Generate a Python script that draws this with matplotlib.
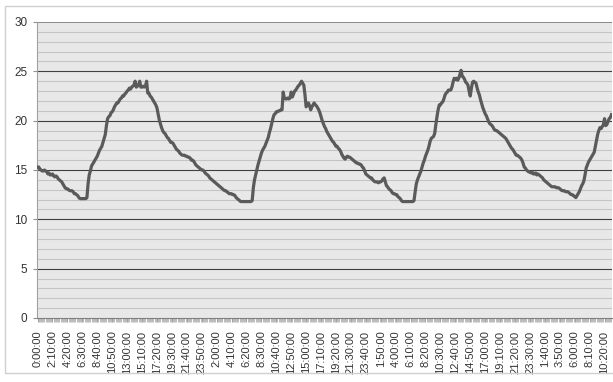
import matplotlib.pyplot as plt
import matplotlib.patches as patches
import numpy as np

plt.rcParams['font.family'] = ['Liberation Sans', 'DejaVu Sans']

# temperature readings every 10 minutes, one row per labelled interval (13 steps)
temp = [
    15.3, 15.3, 15.1, 15.0, 14.9, 14.9, 15.0, 14.9, 14.8, 14.6, 14.7, 14.5, 14.5,
    14.6, 14.4, 14.3, 14.4, 14.3, 14.1, 14.0, 13.9, 13.8, 13.6, 13.4, 13.2, 13.1,
    13.1, 13.0, 12.9, 12.9, 12.9, 12.8, 12.6, 12.6, 12.5, 12.4, 12.2, 12.1, 12.1,
    12.1, 12.1, 12.1, 12.1, 12.2, 13.6, 14.5, 14.9, 15.4, 15.6, 15.8, 16.0, 16.2,
    16.4, 16.7, 17.0, 17.2, 17.4, 17.8, 18.2, 18.6, 19.5, 20.2, 20.4, 20.5, 20.8,
    20.9, 21.1, 21.4, 21.6, 21.8, 21.8, 22.0, 22.2, 22.3, 22.5, 22.5, 22.7, 22.8,
    23.0, 23.1, 23.3, 23.2, 23.4, 23.5, 23.6, 24.0, 23.4, 23.5, 23.6, 24.0, 23.4,
    23.4, 23.5, 23.4, 23.5, 24.0, 22.8, 22.8, 22.5, 22.4, 22.2, 22.0, 21.8, 21.6,
    21.3, 20.7, 20.1, 19.7, 19.3, 19.0, 18.8, 18.7, 18.5, 18.3, 18.2, 18.0, 17.8,
    17.8, 17.7, 17.5, 17.3, 17.1, 17.0, 16.9, 16.7, 16.6, 16.5, 16.5, 16.5, 16.4,
    16.4, 16.3, 16.3, 16.2, 16.0, 16.0, 15.9, 15.7, 15.5, 15.4, 15.3, 15.2, 15.1,
    15.0, 15.0, 14.9, 14.7, 14.6, 14.5, 14.4, 14.2, 14.1, 14.0, 13.9, 13.8, 13.7,
    13.6, 13.5, 13.4, 13.3, 13.2, 13.1, 13.0, 12.9, 12.9, 12.8, 12.7, 12.6, 12.6,
    12.6, 12.5, 12.5, 12.4, 12.2, 12.1, 12.0, 11.9, 11.8, 11.8, 11.8, 11.8, 11.8,
    11.8, 11.8, 11.8, 11.8, 11.8, 11.9, 13.2, 14.0, 14.5, 15.0, 15.5, 15.9, 16.3,
    16.7, 17.0, 17.2, 17.4, 17.7, 18.0, 18.3, 18.8, 19.2, 19.7, 20.2, 20.6, 20.7,
    20.9, 20.9, 21.0, 21.0, 21.1, 21.1, 22.9, 22.3, 22.2, 22.2, 22.3, 22.2, 22.3,
    22.9, 22.4, 22.7, 23.0, 23.1, 23.3, 23.5, 23.6, 23.8, 24.0, 23.8, 23.6, 22.6,
    21.4, 21.6, 21.8, 21.5, 21.1, 21.4, 21.6, 21.8, 21.6, 21.5, 21.3, 21.1, 20.8,
    20.4, 20.0, 19.7, 19.4, 19.2, 18.9, 18.7, 18.5, 18.3, 18.1, 17.9, 17.8, 17.6,
    17.4, 17.4, 17.2, 17.1, 16.9, 16.6, 16.4, 16.2, 16.1, 16.3, 16.4, 16.3, 16.3,
    16.2, 16.1, 16.0, 15.9, 15.8, 15.7, 15.7, 15.6, 15.6, 15.5, 15.3, 15.2, 14.9,
    14.6, 14.5, 14.4, 14.3, 14.2, 14.2, 14.0, 13.9, 13.8, 13.8, 13.8, 13.7, 13.8,
    13.8, 13.9, 14.1, 14.2, 13.8, 13.4, 13.3, 13.1, 13.0, 12.9, 12.7, 12.6, 12.6,
    12.5, 12.5, 12.3, 12.2, 12.1, 11.9, 11.8, 11.8, 11.8, 11.8, 11.8, 11.8, 11.8,
    11.8, 11.8, 11.8, 11.9, 12.8, 13.6, 14.0, 14.3, 14.6, 14.9, 15.3, 15.7, 16.0,
    16.4, 16.7, 17.0, 17.4, 17.9, 18.2, 18.3, 18.4, 18.7, 19.6, 20.4, 21.1, 21.6,
    21.6, 21.8, 21.9, 22.2, 22.6, 22.8, 22.9, 23.1, 23.1, 23.1, 23.4, 23.9, 24.3,
    24.2, 24.3, 24.1, 24.3, 24.7, 25.1, 24.5, 24.4, 24.2, 23.9, 23.8, 23.6, 23.0,
    22.5, 23.3, 23.9, 24.0, 23.9, 23.8, 23.3, 22.9, 22.6, 22.1, 21.7, 21.3, 21.0,
    20.7, 20.5, 20.2, 19.9, 19.7, 19.6, 19.5, 19.3, 19.1, 19.0, 19.0, 18.9, 18.8,
    18.7, 18.6, 18.5, 18.4, 18.3, 18.2, 18.0, 17.8, 17.6, 17.4, 17.2, 17.1, 16.9,
    16.7, 16.5, 16.5, 16.4, 16.3, 16.2, 16.0, 15.7, 15.3, 15.2, 15.0, 14.9, 14.8,
    14.8, 14.7, 14.8, 14.6, 14.6, 14.7, 14.5, 14.6, 14.5, 14.4, 14.3, 14.2, 14.0,
    13.9, 13.8, 13.7, 13.6, 13.5, 13.4, 13.3, 13.3, 13.3, 13.3, 13.2, 13.2, 13.2,
    13.1, 13.0, 12.9, 12.9, 12.9, 12.8, 12.8, 12.8, 12.7, 12.6, 12.5, 12.5, 12.4,
    12.3, 12.2, 12.4, 12.6, 12.8, 13.1, 13.4, 13.6, 13.9, 14.5, 15.2, 15.5, 15.8,
    16.0, 16.2, 16.4, 16.6, 16.8, 17.4, 18.0, 18.6, 19.0, 19.3, 19.2, 19.4, 19.6,
    20.2, 19.5, 19.6, 19.9, 20.2, 20.3, 20.6,
]

tick_labels = [
    '0:00:00', '2:10:00', '4:20:00', '6:30:00', '8:40:00', '10:50:00', '13:00:00',
    '15:10:00', '17:20:00', '19:30:00', '21:40:00', '23:50:00', '2:00:00', '4:10:00',
    '6:20:00', '8:30:00', '10:40:00', '12:50:00', '15:00:00', '17:10:00', '19:20:00',
    '21:30:00', '23:40:00', '1:50:00', '4:00:00', '6:10:00', '8:20:00', '10:30:00',
    '12:40:00', '14:50:00', '17:00:00', '19:10:00', '21:20:00', '23:30:00', '1:40:00',
    '3:50:00', '6:00:00', '8:10:00', '10:20:00',
]
label_step = 13

W, H = 613, 382
fig = plt.figure(figsize=(W / 100, H / 100), dpi=100)
fig.patch.set_facecolor('white')

# chart border
fig.patches.append(patches.Rectangle((5 / W, 1 - 373 / H), 1.0, (373 - 6) / H,
                                     transform=fig.transFigure, fill=False,
                                     edgecolor='#d0d0d0', linewidth=1.0))

ax = fig.add_axes([37 / W, 1 - 318 / H, 575 / W, 296 / H])
ax.set_facecolor('#e8e8e8')

x = np.arange(len(temp))
ax.plot(x, temp, color='#5a5a5a', linewidth=2.3, solid_joinstyle='round', zorder=3)

ax.set_xlim(-0.5, len(temp) - 0.5)
ax.set_ylim(0, 30)

# gridlines: light every unit, dark every 5
for v in range(1, 30):
    if v % 5 == 0:
        ax.axhline(v, color='#404040', linewidth=0.8, zorder=1)
    else:
        ax.axhline(v, color='#c4c4c4', linewidth=0.8, zorder=1)
ax.axhline(30, color='#7a7a7a', linewidth=1.2, zorder=1)

ax.set_yticks(range(0, 31, 5))
ax.tick_params(axis='y', length=3, width=0.8, color='#909090', labelsize=8.5,
               labelcolor='#333333', pad=4)

ax.set_xticks(np.arange(len(tick_labels)) * label_step)
ax.set_xticklabels(tick_labels, rotation=90)
ax.set_xticks(np.arange(len(temp)), minor=True)
ax.tick_params(axis='x', which='major', length=3, width=0.6, color='#909090',
               labelsize=8, labelcolor='#333333', pad=6)
ax.tick_params(axis='x', which='minor', length=3, width=0.5, color='#a0a0a0')

for s in ['top', 'right']:
    ax.spines[s].set_visible(False)
ax.spines['left'].set_color('#a0a0a0')
ax.spines['left'].set_linewidth(0.8)
ax.spines['bottom'].set_color('#808080')
ax.spines['bottom'].set_linewidth(0.8)

fig.savefig('out.png', dpi=100, facecolor='white')
